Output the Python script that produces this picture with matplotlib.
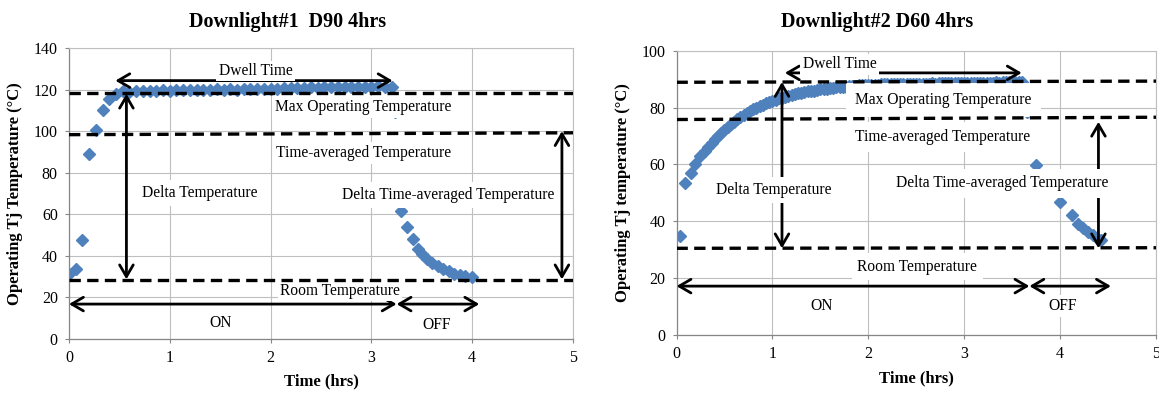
import matplotlib.pyplot as plt

plt.rcParams['font.family'] = ['Liberation Serif', 'DejaVu Serif']

# Downlight #1, D90: logged every 4 minutes while on, then the cool-down
d90_on_min = [0, 4, 8, 12, 16, 20, 24, 28, 32, 36, 40, 44, 48, 52, 56, 60,
              64, 68, 72, 76, 80, 84, 88, 92, 96, 100, 104, 108, 112, 116,
              120, 124, 128, 132, 136, 140, 144, 148, 152, 156, 160, 164,
              168, 172, 176, 180, 184, 188, 192]
d90_on_temp = [31.3, 33.5, 47.6, 88.8, 100.5, 110.0, 115.4, 118.0, 119.2,
               119.0, 119.3, 119.1, 119.4, 119.2, 119.6, 119.5, 119.8, 119.6,
               119.9, 119.8, 120.0, 119.8, 120.1, 119.9, 120.2, 120.0, 120.3,
               120.2, 120.4, 120.3, 120.5, 120.4, 120.7, 120.6, 120.8, 120.7,
               121.0, 120.9, 121.1, 121.0, 121.2, 121.1, 121.3, 121.2, 121.4,
               121.3, 121.5, 121.3, 121.1]
d90_off_hr = [3.23, 3.29, 3.35, 3.41, 3.46, 3.50, 3.55, 3.60, 3.66, 3.71,
              3.77, 3.82, 3.88, 3.93, 4.00]
d90_off_temp = [109.0, 61.5, 54.0, 48.0, 43.5, 41.0, 38.5, 36.5, 35.0, 33.5,
                32.5, 31.5, 31.0, 30.5, 30.0]

# Downlight #2, D60: a few early readings, then every 2 minutes
d60_start_hr = [0.036, 0.089, 0.147, 0.193, 0.245]
d60_start_temp = [34.8, 53.3, 57.0, 60.3, 62.8]
d60_on_min = [18, 20, 22, 24, 26, 28, 30, 32, 34, 36, 38, 40, 42, 44, 46, 48,
              50, 52, 54, 56, 58, 60, 62, 64, 66, 68, 70, 72, 74, 76, 78, 80,
              82, 84, 86, 88, 90, 92, 94, 96, 98, 100, 102, 104, 106, 108,
              110, 112, 114, 116, 118, 120, 122, 124, 126, 128, 130, 132, 134,
              136, 138, 140, 142, 144, 146, 148, 150, 152, 154, 156, 158, 160,
              162, 164, 166, 168, 170, 172, 174, 176, 178, 180, 182, 184, 186,
              188, 190, 192, 194, 196, 198, 200, 202, 204, 206, 208, 210, 212,
              214, 216]
d60_on_temp = [64.6, 66.1, 67.5, 68.8, 70.0, 71.1, 72.2, 73.2, 74.2, 75.1,
               75.9, 76.7, 77.4, 78.1, 78.8, 79.4, 80.0, 80.5, 81.0, 81.5,
               82.0, 82.4, 82.8, 83.2, 83.5, 83.8, 84.2, 84.4, 84.7, 85.0,
               85.2, 85.4, 85.7, 85.9, 86.0, 86.2, 86.4, 86.5, 86.7, 86.8,
               87.0, 87.1, 87.2, 87.3, 87.4, 87.5, 87.6, 87.7, 87.8, 87.8,
               87.9, 88.0, 88.0, 88.1, 88.1, 88.2, 88.2, 88.2, 88.3, 88.3,
               88.3, 88.3, 88.3, 88.4, 88.3, 88.4, 88.4, 88.4, 88.3, 88.4,
               88.4, 88.5, 88.4, 88.5, 88.5, 88.5, 88.6, 88.5, 88.6, 88.6,
               88.6, 88.7, 88.6, 88.7, 88.7, 88.7, 88.8, 88.7, 88.8, 88.8,
               88.8, 88.9, 88.8, 88.9, 88.9, 88.9, 89.0, 88.9, 89.0, 89.0]
d60_off_hr = [3.65, 3.75, 3.87, 3.995, 4.12, 4.19, 4.24, 4.29, 4.34, 4.39, 4.43]
d60_off_temp = [78.3, 59.8, 52.8, 46.9, 42.2, 39.2, 37.6, 36.3, 35.1, 34.1, 33.4]

# reference levels (left end, right end)
d90_max_op = (118.5, 118.5)
d90_time_avg = (98.3, 99.2)
d90_room = (28.5, 28.5)
d60_max_op = (88.9, 89.3)
d60_time_avg = (75.8, 76.6)
d60_room = (30.5, 30.7)

BLUE = '#4F81BD'
GRID = '#bfbfbf'
AXIS = '#868686'
MS = 5.9


def label(ax, x, y, s, pad=0.2):
    ax.text(x, y, s, ha='center', va='center', fontsize=11.2, zorder=4,
            bbox=dict(boxstyle='square,pad=%s' % pad, fc='white', ec='none'))


def arrow(ax, x0, y0, x1, y1):
    ax.annotate('', xy=(x1, y1), xytext=(x0, y0), zorder=3,
                arrowprops=dict(arrowstyle='<->,head_length=0.6,head_width=0.35',
                                lw=2, color='black', shrinkA=0, shrinkB=0,
                                mutation_scale=14))


def level(ax, ends):
    ax.plot([0, 5], list(ends), color='black', lw=2.4, ls=(0, (3.4, 1.9)),
            zorder=5)


def setup(ax, ymax, ylabel):
    ax.set_xlim(0, 5)
    ax.set_ylim(0, ymax)
    ax.set_xticks(range(0, 6))
    ax.set_yticks(range(0, ymax + 1, 20))
    ax.grid(True, color=GRID, lw=0.8)
    ax.set_axisbelow(True)
    for side in ['top', 'right']:
        ax.spines[side].set_color(GRID)
        ax.spines[side].set_linewidth(0.8)
    for side in ['left', 'bottom']:
        ax.spines[side].set_color(AXIS)
        ax.spines[side].set_linewidth(0.9)
    ax.tick_params(direction='out', length=3, width=0.8, color=AXIS,
                   labelsize=11.5, pad=5)
    ax.set_xlabel('Time (hrs)', fontsize=12, fontweight='bold')
    ax.set_ylabel(ylabel, fontsize=12, fontweight='bold')
    ax.xaxis.label.set_va('center')
    ax.yaxis.label.set_va('center')


fig = plt.figure(figsize=(11.59, 3.94), dpi=100)

# ---- Downlight #1 ----
ax1 = fig.add_axes([0.0595, 0.1396, 0.4349, 0.7386])
setup(ax1, 140, 'Operating Tj Temperature (°C)')
ax1.xaxis.set_label_coords(0.5, -0.147)
ax1.yaxis.set_label_coords(-0.107, 0.5)

ax1.plot([m / 60 for m in d90_on_min], d90_on_temp, 'D', color=BLUE, ms=MS, zorder=2)
ax1.plot(d90_off_hr, d90_off_temp, 'D', color=BLUE, ms=MS, zorder=2)

level(ax1, d90_max_op)
level(ax1, d90_time_avg)
level(ax1, d90_room)

arrow(ax1, 0.46, 124.3, 3.21, 124.3)
arrow(ax1, 0.57, 118.0, 0.57, 28.7)
arrow(ax1, 4.89, 100.0, 4.89, 28.7)
arrow(ax1, 0.0, 16.8, 3.25, 16.8)
arrow(ax1, 3.25, 16.8, 4.07, 16.8)

label(ax1, 1.85, 129.0, 'Dwell Time', 0.15)
label(ax1, 2.92, 111.6, 'Max Operating Temperature', 0.2)
label(ax1, 2.92, 89.5, 'Time-averaged Temperature', 0.2)
label(ax1, 1.30, 70.2, 'Delta Temperature', 0.3)
label(ax1, 3.76, 69.3, 'Delta Time-averaged Temperature', 0.3)
label(ax1, 2.69, 23.1, 'Room Temperature', 0.15)
label(ax1, 1.50, 7.7, 'ON', 0.2)
label(ax1, 3.65, 6.7, 'OFF', 0.2)

fig.text(0.2485, 0.945, 'Downlight#1  D90 4hrs', ha='center', va='center',
         fontsize=14.5, fontweight='bold')

# ---- Downlight #2 ----
ax2 = fig.add_axes([0.5837, 0.1497, 0.4137, 0.7216])
setup(ax2, 100, 'Operating Tj temperature (°C)')
ax2.xaxis.set_label_coords(0.5, -0.151)
ax2.yaxis.set_label_coords(-0.112, 0.5)

ax2.plot(d60_start_hr, d60_start_temp, 'D', color=BLUE, ms=MS, zorder=2)
ax2.plot([m / 60 for m in d60_on_min], d60_on_temp, 'D', color=BLUE, ms=MS, zorder=2)
ax2.plot(d60_off_hr, d60_off_temp, 'D', color=BLUE, ms=MS, zorder=2)

level(ax2, d60_max_op)
level(ax2, d60_time_avg)
level(ax2, d60_room)

arrow(ax2, 1.13, 92.2, 3.60, 92.2)
arrow(ax2, 1.10, 89.0, 1.10, 30.5)
arrow(ax2, 4.40, 75.0, 4.40, 30.5)
arrow(ax2, 0.0, 17.2, 3.68, 17.2)
arrow(ax2, 3.68, 17.2, 4.53, 17.2)

label(ax2, 1.70, 95.2, 'Dwell Time', 0.15)
label(ax2, 2.78, 82.7, 'Max Operating Temperature', 0.6)
label(ax2, 2.77, 69.8, 'Time-averaged Temperature', 0.45)
label(ax2, 1.01, 51.0, 'Delta Temperature', 0.35)
label(ax2, 3.40, 53.4, 'Delta Time-averaged Temperature', 0.42)
label(ax2, 2.51, 24.0, 'Room Temperature', 0.35)
label(ax2, 1.51, 10.2, 'ON', 0.2)
label(ax2, 4.03, 10.2, 'OFF', 0.2)

fig.text(0.7567, 0.945, 'Downlight#2 D60 4hrs', ha='center', va='center',
         fontsize=14.5, fontweight='bold')

fig.savefig('out.png', dpi=100)
